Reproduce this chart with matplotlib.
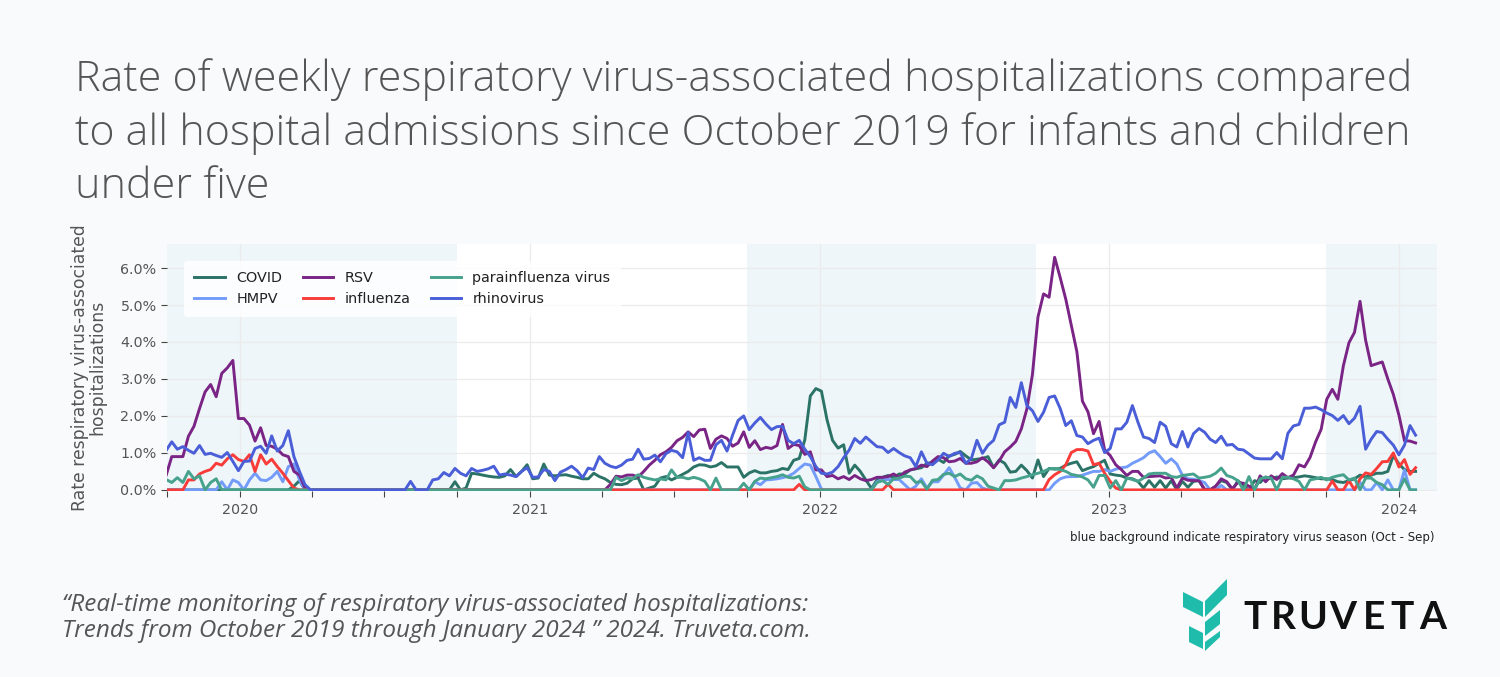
import matplotlib
matplotlib.use("Agg")
import matplotlib.pyplot as plt
import matplotlib.dates as mdates
from matplotlib.patches import Polygon
from matplotlib.ticker import FuncFormatter
import numpy as np
import pandas as pd

# weekly data, Sep 30 2019 .. Jan 22 2024 (226 weeks), values in %
weeks = pd.date_range("2019-09-30", periods=226, freq="7D")

covid = ([0] * 23 + [0.1, 0.25] + [0] * 27 +
         [0.22, 0, 0.05, 0.45, 0.43, 0.4, 0.37, 0.35, 0.34, 0.38, 0.55, 0.36, 0.5,
          0.68, 0.3, 0.32, 0.7, 0.4, 0.38, 0.4, 0.41, 0.37, 0.34, 0.3, 0.3, 0.45,
          0.36, 0.3, 0.2, 0.15, 0.14, 0.18, 0.3, 0.32, 0, 0.05, 0.1, 0.32, 0.36,
          0.27, 0.34, 0.42, 0.5, 0.62, 0.68, 0.67, 0.62, 0.65, 0.74, 0.62, 0.62,
          0.62, 0.34, 0.46, 0.52, 0.46, 0.46, 0.5, 0.52, 0.58, 0.55, 0.8, 0.85,
          1.35, 2.54, 2.74, 2.67, 1.9, 1.34, 1.13, 1.22, 0.45, 0.67, 0.5, 0.27,
          0.04, 0.27, 0.34, 0.39, 0.34, 0.43, 0.43, 0.54, 0.57, 0.6, 0.72, 0.74,
          0.83, 0.74, 0.92, 0.96, 1.04, 0.92, 0.81, 0.83, 0.85, 0.9, 0.6, 0.81,
          0.72, 0.48, 0.5, 0.67, 0.52, 0.32, 0.81, 0.36, 0.58, 0.56, 0.58, 0.67,
          0.72, 0.76, 0.52, 0.58, 0.63, 0.72, 0.8, 0.43, 0.4, 0.38, 0.32, 0.3,
          0.23, 0.05, 0.25, 0.07, 0.25, 0.05, 0.25, 0, 0.23, 0.07, 0.23, 0.25, 0,
          0, 0.1, 0.25, 0.2, 0, 0.25, 0.1, 0, 0.25, 0.2, 0.35, 0.3, 0.35, 0.3,
          0.32, 0.33, 0.35, 0.38, 0.36, 0.33, 0.3, 0.3, 0.28, 0.22, 0.2, 0.25,
          0.3, 0.4, 0.35, 0.4, 0.45, 0.45, 0.5, 0.93, 0.7, 0.55, 0.5, 0.5])

hmpv = ([0] * 10 +
        [0.22, 0, 0.27, 0.2, 0, 0.27, 0.45, 0.27, 0.25, 0.34, 0.5, 0.22, 0.63,
         0.7, 0.27] + [0] * 81 +
        [0.22, 0.14, 0.27, 0.28, 0.3, 0.33, 0.37, 0.45, 0.58, 0.7, 0.67, 0.36,
         0.02] + [0] * 9 +
        [0.22, 0.28, 0.28, 0.28, 0.28, 0.14, 0, 0.1, 0.3, 0.05, 0.22, 0.22, 0.4,
         0.6, 0.34, 0.05, 0, 0.18, 0.2, 0.05] + [0] * 12 +
        [0.18, 0.3, 0.35, 0.36, 0.36, 0.4, 0.45, 0.5, 0.5, 0.55, 0.5, 0.56, 0.6,
         0.62, 0.72, 0.79, 0.87, 1.0, 1.06, 0.9, 0.72, 0.84, 0.7, 0.4, 0.3, 0.29,
         0.25, 0.2, 0, 0, 0.12] + [0] * 24 +
        [0.2, 0, 0, 0.2, 0, 0.27, 0, 0, 0.54, 0, 0])

rsv = ([0.4, 0.9, 0.9, 0.9, 1.45, 1.72, 2.2, 2.65, 2.85, 2.52, 3.15, 3.3, 3.5,
        1.93, 1.93, 1.75, 1.32, 1.68, 1.2, 1.18, 1.1, 0.95, 0.9, 0.5, 0.4, 0.05]
       + [0] * 54 +
       [0.15, 0.37, 0.35, 0.4, 0.4, 0.35, 0.5, 0.67, 0.8, 0.95, 1.03, 1.15, 1.33,
        1.42, 1.57, 1.44, 1.62, 1.64, 1.12, 1.37, 1.46, 1.39, 1.18, 1.27, 1.57,
        1.15, 1.33, 1.09, 1.15, 1.12, 1.2, 1.77, 1.12, 1.23, 1.2, 0.96, 1.03,
        0.54, 0.54, 0.36, 0.39, 0.3, 0.36, 0.28, 0.39, 0.3, 0.25, 0.28, 0.34,
        0.34, 0.36, 0.43, 0.34, 0.48, 0.54, 0.58, 0.67, 0.63, 0.78, 0.9, 0.87,
        0.76, 0.78, 0.85, 0.72, 0.72, 0.76, 0.87, 0.76, 0.6, 0.78, 1.03, 1.16,
        1.31, 1.65, 2.19, 3.12, 4.68, 5.3, 5.21, 6.29, 5.74, 5.16, 4.45, 3.74,
        2.4, 2.11, 1.52, 1.85, 1.08, 0.93, 0.68, 0.55, 0.39, 0.5, 0.5, 0.34,
        0.36, 0.37, 0.38, 0.32, 0.34, 0.05, 0.32, 0.26, 0.25, 0.25, 0.02, 0, 0.1,
        0.3, 0.22, 0.03, 0.2, 0.18, 0.1, 0, 0.38, 0.22, 0.38, 0.28, 0.44, 0.33,
        0.4, 0.68, 0.62, 0.88, 1.3, 1.64, 2.45, 2.72, 2.45, 3.36, 3.98, 4.26,
        5.1, 4.05, 3.36, 3.41, 3.46, 3.0, 2.58, 2.02, 1.33, 1.32, 1.27])

influenza = ([0, 0, 0, 0, 0.27, 0.27, 0.43, 0.5, 0.55, 0.72, 0.67, 0.84, 0.95,
              0.82, 0.77, 0.95, 0.5, 0.95, 0.7, 0.83, 0.63, 0.45, 0.25, 0.05]
             + [0] * 90 + [0.15] + [0] * 15 + [0.15] + [0] * 28 +
             [0.28, 0.41, 0.5, 0.68, 1.01, 1.09, 1.09, 1.05, 0.68, 0.72, 0.45,
              0.23, 0.05] + [0] * 38 +
             [0.24, 0, 0, 0.25, 0, 0.3, 0.46, 0.42, 0.58, 0.76, 0.77, 1.0, 0.62,
              0.82, 0.42, 0.6])

parainfluenza = ([0.28, 0.2, 0.33, 0.2, 0.5, 0.3, 0.38, 0, 0.2, 0.3] + [0] * 71 +
                 [0.34, 0.25, 0.32, 0.3, 0.41, 0.34, 0.3, 0.27, 0.3, 0.27, 0.54,
                  0.34, 0.34, 0.3, 0.34, 0.3, 0.23, 0, 0.32, 0, 0, 0, 0, 0.18, 0,
                  0.23, 0.32, 0.3, 0.33, 0.36, 0.41, 0.34, 0.32, 0.37, 0.08]
                 + [0] * 12 +
                 [0.2, 0.25, 0.15, 0.3, 0.32, 0.37, 0.36, 0.2, 0.23, 0.02, 0.26,
                  0.28, 0.42, 0.45, 0.36, 0.43, 0.3, 0.26, 0.38, 0.3, 0.1, 0.05, 0,
                  0.25, 0.25, 0.27, 0.32, 0.36, 0.41, 0.45, 0.5, 0.57, 0.58, 0.55,
                  0.5, 0.42, 0.39, 0.35, 0.27, 0.07, 0.39, 0.39, 0.05, 0.25, 0,
                  0.32, 0.28, 0.23, 0.32, 0.43, 0.45, 0.45, 0.45, 0.36, 0.34, 0.39,
                  0.41, 0.43, 0.32, 0.34, 0.37, 0.45, 0.59, 0.39, 0.34, 0.25, 0,
                  0.36, 0, 0.3, 0.34, 0.32, 0, 0.34, 0.34, 0.3, 0.23, 0, 0.27, 0.3,
                  0.34, 0.27, 0.34, 0.38, 0.41, 0.27, 0.32, 0, 0.32, 0.32, 0.2,
                  0.14, 0, 0, 0, 0.3, 0, 0])

rhinovirus = ([1.07, 1.3, 1.1, 1.17, 1.07, 0.99, 1.2, 0.96, 0.99, 0.93, 0.88, 1.01,
               0.77, 0.52, 0.77, 0.78, 1.12, 1.18, 0.99, 1.46, 1.05, 1.2, 1.6, 0.9,
               0.5, 0.14] + [0] * 18 + [0.23, 0, 0, 0] +
              [0.27, 0.3, 0.47, 0.38, 0.58, 0.45, 0.38, 0.58, 0.5, 0.53, 0.57,
               0.64, 0.4, 0.43, 0.4, 0.36, 0.5, 0.6, 0.34, 0.35, 0.55, 0.5, 0.25,
               0.48, 0.55, 0.64, 0.52, 0.33, 0.59, 0.55, 0.9, 0.72, 0.64, 0.6, 0.67,
               0.8, 0.83, 1.1, 0.83, 0.85, 0.94, 0.76, 0.98, 1.07, 1.03, 0.87, 1.55,
               0.8, 0.87, 0.8, 0.8, 1.22, 1.34, 1.05, 1.48, 1.88, 2.0, 1.63, 1.81,
               1.96, 1.78, 1.63, 1.71, 1.72, 1.34, 1.25, 1.34, 1.1, 0.9, 0.63, 0.45,
               0.43, 0.48, 0.63, 0.87, 1.08, 1.39, 1.26, 1.43, 1.3, 1.17, 1.15,
               1.01, 1.12, 1.01, 0.92, 0.87, 0.63, 1.03, 0.72, 0.68, 0.81, 0.99,
               0.9, 0.99, 1.01, 0.72, 0.85, 1.34, 0.99, 1.21, 1.34, 1.76, 1.83, 2.5,
               2.23, 2.9, 2.28, 2.14, 1.85, 2.1, 2.5, 2.54, 2.2, 1.74, 1.87, 1.47,
               1.43, 1.25, 1.34, 1.4, 1.01, 1.12, 1.65, 1.65, 1.83, 2.28, 1.83,
               1.43, 1.39, 1.28, 1.83, 1.72, 1.25, 1.16, 1.58, 1.16, 1.52, 1.66,
               1.56, 1.37, 1.28, 1.45, 1.21, 1.23, 1.1, 1.08, 0.97, 0.86, 0.84,
               0.84, 0.84, 1.01, 0.84, 1.53, 1.73, 1.77, 2.21, 2.21, 2.24, 2.17,
               2.08, 2.01, 1.88, 2.01, 1.79, 1.94, 2.26, 1.1, 1.37, 1.58, 1.55,
               1.37, 1.21, 0.95, 1.21, 1.74, 1.48])

series = [("COVID", covid, "#2b7366"),
          ("HMPV", hmpv, "#739bfa"),
          ("RSV", rsv, "#7a2485"),
          ("influenza", influenza, "#f83c3a"),
          ("parainfluenza virus", parainfluenza, "#46a28c"),
          ("rhinovirus", rhinovirus, "#4a5ed8")]

seasons = [("2019-10-01", "2020-10-01"), ("2021-10-01", "2022-10-01"),
           ("2023-10-01", "2024-02-18")]

title = ("Rate of weekly respiratory virus-associated hospitalizations compared\n"
         "to all hospital admissions since October 2019 for infants and children\n"
         "under five")
note = "blue background indicate respiratory virus season (Oct - Sep)"
source = ("\u201cReal-time monitoring of respiratory virus-associated hospitalizations:\n"
          "Trends from October 2019 through January 2024 \u201d 2024. Truveta.com.")
logo_letters = list("TRUVETA")
logo_x = [1255, 1283, 1313, 1343, 1374, 1402, 1433]

fig = plt.figure(figsize=(15, 6.77), dpi=100, facecolor="#f9fafb")

ax = fig.add_axes([167 / 1500, 1 - 491 / 677, 1270 / 1500, 247 / 677])
ax.set_facecolor("white")
for s, e in seasons:
    ax.axvspan(pd.Timestamp(s), pd.Timestamp(e), color="#eef6f9", lw=0, zorder=0)

for name, vals, col in series:
    assert len(vals) == len(weeks), (name, len(vals))
    ax.plot(weeks, vals, color=col, lw=2.1, label=name, zorder=3)

ax.set_xlim(pd.Timestamp("2019-10-01"), pd.Timestamp("2024-02-18"))
ax.set_ylim(-0.03, 6.65)
ax.set_yticks([0, 1, 2, 3, 4, 5, 6])
ax.yaxis.set_major_formatter(FuncFormatter(lambda v, p: f"{v:.1f}%"))
ax.xaxis.set_major_locator(mdates.YearLocator())
ax.xaxis.set_major_formatter(mdates.DateFormatter("%Y"))
ax.xaxis.set_minor_locator(mdates.MonthLocator(bymonth=[1, 4, 7, 10]))
ax.grid(True, which="major", color="#ebebeb", lw=0.9, zorder=1)
ax.set_axisbelow(True)
for sp in ax.spines.values():
    sp.set_visible(False)
ax.tick_params(axis="both", which="both", length=4, width=0.8, color="#444444",
               labelcolor="#555555", labelsize=10.3)
ax.tick_params(axis="x", which="major", pad=5)
ax.set_ylabel("Rate respiratory virus-associated\nhospitalizations", fontsize=12.4,
              color="#555555", linespacing=0.95, labelpad=10)

leg = ax.legend(loc="upper left", bbox_to_anchor=(0.008, 0.96), ncol=3, fontsize=10.4,
                frameon=True, handlelength=2.1, columnspacing=1.4, labelspacing=0.5,
                borderpad=0.7, handletextpad=0.8)
leg.get_frame().set_facecolor("white")
leg.get_frame().set_alpha(0.85)
leg.get_frame().set_edgecolor("none")
for t in leg.get_texts():
    t.set_color("#222222")

fig.text(1435 / 1500, 1 - 537 / 677, note, ha="right", va="center", fontsize=8.5,
         color="#222222")

fig.text(75 / 1500, 1 - 58 / 677, title, ha="left", va="top", fontsize=31,
         color="#555555", family="Open Sans", weight="light", linespacing=1.33)

fig.text(62 / 1500, 1 - 618 / 677, source, ha="left", va="center", fontsize=17.5,
         color="#555555", family="Open Sans", style="italic", linespacing=1.15)

# logo
lax = fig.add_axes([1180 / 1500, 1 - 656 / 677, 270 / 1500, 80 / 677])
lax.set_xlim(1180, 1450)
lax.set_ylim(656, 576)
lax.axis("off")
teal = "#20bcab"
shapes = [
    [(1183, 592), (1203, 602), (1203, 617), (1183, 607)],
    [(1205, 601), (1227, 579), (1227, 595), (1205, 617)],
    [(1205, 622), (1220, 610), (1220, 624), (1205, 636)],
    [(1189, 626), (1203, 633), (1203, 649), (1189, 642)],
    [(1205, 642), (1220, 631), (1220, 637), (1205, 651)],
]
for pts in shapes:
    lax.add_patch(Polygon(pts, closed=True, color=teal, lw=0))
for ch, x in zip(logo_letters, logo_x):
    lax.text(x, 618, ch, ha="center", va="center", fontsize=28,
             color="#111111", family="Lato", weight="bold")

fig.savefig("out.png", dpi=100, facecolor=fig.get_facecolor())
